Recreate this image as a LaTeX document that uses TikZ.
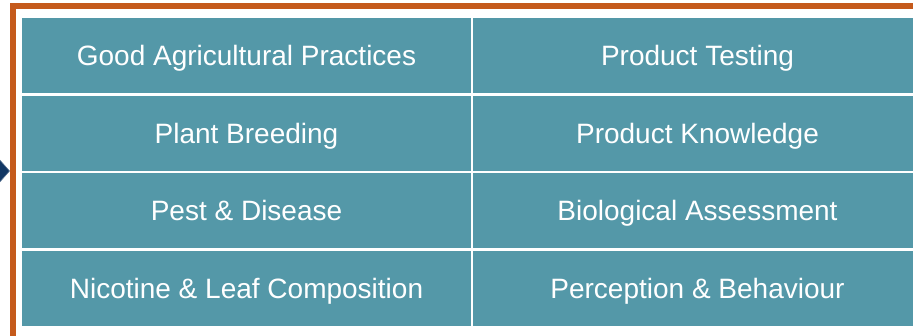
\documentclass[tikz,border=0pt]{standalone}
\usepackage{fontspec}
\setmainfont{Liberation Sans}
\usepackage{tikz}
\definecolor{tealcell}{RGB}{84,152,168}
\definecolor{frameorange}{RGB}{197,90,28}
\definecolor{navy}{RGB}{17,55,100}

\begin{document}
\begin{tikzpicture}[x=1pt,y=-1pt,
        cell/.style={rectangle,draw=white,fill=tealcell,line width=2.7pt,text=white,inner sep=0pt,
            minimum width=451pt,minimum height=77.65pt,text height=20pt,text depth=0pt,
            font=\fontsize{28}{32}\selectfont},
        frame/.style={draw=frameorange,line width=6pt},
        pointer/.style={fill=navy,draw=navy!70!white,line width=0.6pt}]
        \clip (0,0) rectangle (913,336);
        \fill[white] (0,0) rectangle (913,336);
        \draw[frame] (13,6.3) rectangle (940,339.2);
        \node[cell] (gap)        at (246.5,55.5)  {Good Agricultural Practices};
        \node[cell] (breeding)   at (246.5,133.2) {Plant Breeding};
        \node[cell] (pest)       at (246.5,210.8) {Pest \& Disease};
        \node[cell] (nicotine)   at (246.5,288.5) {Nicotine \& Leaf Composition};
        \node[cell] (testing)    at (697.5,55.5)  {Product Testing};
        \node[cell] (knowledge)  at (697.5,133.2) {Product Knowledge};
        \node[cell] (bio)        at (697.5,210.8) {Biological Assessment};
        \node[cell] (perception) at (697.5,288.5) {Perception \& Behaviour};
        \coordinate (tip) at (9.5,171);
        \path[pointer] (-2,158) -- (tip) -- (-2,184) -- cycle;
    \end{tikzpicture}
\end{document}
